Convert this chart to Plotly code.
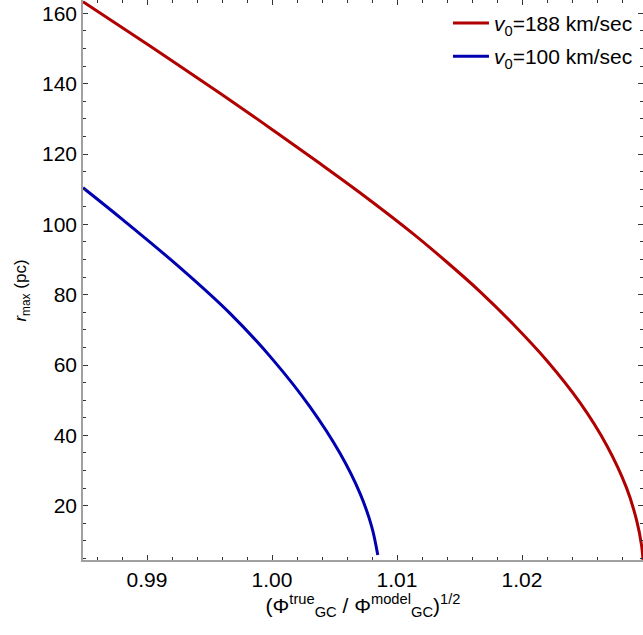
import plotly.graph_objects as go

# Data
red_x = [0.98488, 0.99024, 0.99584, 1.00000, 1.00384, 1.00704, 1.01130,
         1.01398, 1.01664, 1.01930, 1.02198, 1.02464, 1.02677, 1.02837, 1.02917,
         1.02957, 1.02968]
red_y = [163.3, 150.7, 137.3, 127.0, 117.3, 109.0, 97.3,
         89.3, 80.9, 71.6, 61.3, 49.3, 37.2, 25.0, 15.8,
         8.6, 4.6]

blue_x = [0.98488, 0.98810, 0.99264, 0.99664, 1.00010, 1.00304, 1.00544, 1.00704,
          1.00798, 1.00846]
blue_y = [110.4, 101.2, 87.7, 74.7, 61.4, 48.1, 34.9, 23.5, 14.0, 6.0]

red_name = "<i>v</i><sub>0</sub>=188 km/sec"
blue_name = "<i>v</i><sub>0</sub>=100 km/sec"
x_title = "(Φ<sup>true</sup><sub>GC</sub> / Φ<sup>model</sup><sub>GC</sub>)<sup>1/2</sup>"
y_title = "<i>r</i><sub>max</sub> (pc)"

x_range = [0.98488, 1.02968]
y_range = [4.56, 163.8]
x_ticks = [0.99, 1.00, 1.01, 1.02]
x_ticklabels = ["0.99", "1.00", "1.01", "1.02"]
y_ticks = [20, 40, 60, 80, 100, 120, 140, 160]

FONT = "Liberation Sans, Arial, sans-serif"
RED = "#B00000"
BLUE = "#0000B0"
AXIS = "#a0a0a0"
TICK = "#333333"

fig = go.Figure()
fig.add_trace(go.Scatter(x=red_x, y=red_y, mode="lines", name=red_name,
                         line=dict(color=RED, width=3, shape="spline", smoothing=1.0),
                         legendgroup="a"))
fig.add_trace(go.Scatter(x=blue_x, y=blue_y, mode="lines", name=blue_name,
                         line=dict(color=BLUE, width=3, shape="spline", smoothing=1.0),
                         legendgroup="b"))
# empty trace to hold mirrored tick axes
fig.add_trace(go.Scatter(x=[], y=[], xaxis="x2", yaxis="y2", showlegend=False))

common = dict(ticks="inside", tickcolor=TICK, ticklen=5, tickwidth=1,
              showgrid=False, zeroline=False)

fig.update_layout(
    width=643, height=635,
    margin=dict(l=83, r=0, t=0, b=75),
    plot_bgcolor="white", paper_bgcolor="white",
    font=dict(family=FONT, size=21, color="black"),
    xaxis=dict(range=x_range, tickvals=x_ticks, ticktext=x_ticklabels,
               showline=True, linecolor=AXIS, linewidth=1.5,
               minor=dict(dtick=0.002, tick0=0.99, ticks="inside", ticklen=3, tickcolor=TICK),
               title=dict(text=x_title, font=dict(size=21), standoff=8),
               tickfont=dict(size=21), **common),
    yaxis=dict(range=y_range, tickvals=y_ticks,
               showline=True, linecolor=AXIS, linewidth=1.5,
               minor=dict(dtick=5, tick0=0, ticks="inside", ticklen=3, tickcolor=TICK),
               tickfont=dict(size=21), **common),
    xaxis2=dict(range=x_range, overlaying="x", side="top", anchor="y2",
                tickvals=x_ticks, showticklabels=False, showline=False,
                minor=dict(dtick=0.002, tick0=0.99, ticks="inside", ticklen=3, tickcolor=TICK),
                **common),
    yaxis2=dict(range=y_range, overlaying="y", side="right", anchor="x2",
                tickvals=y_ticks, showticklabels=False, showline=False,
                minor=dict(dtick=5, tick0=0, ticks="inside", ticklen=3, tickcolor=TICK),
                **common),
    legend=dict(x=0.991, xanchor="right", y=0.995, yanchor="top",
                bgcolor="rgba(0,0,0,0)", font=dict(size=21),
                traceorder="grouped", tracegroupgap=3, itemwidth=36),
    showlegend=True,
    annotations=[dict(text=y_title, textangle=-90, xref="paper", yref="paper",
                      x=-0.109, y=0.481, xanchor="center", yanchor="middle",
                      showarrow=False, font=dict(size=17))],
)

fig.write_html("out.html")
